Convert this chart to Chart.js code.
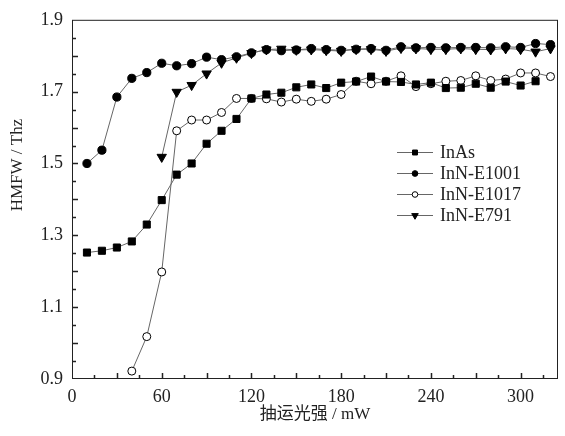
<!DOCTYPE html>
<html>
<head>
<meta charset="utf-8">
<script src="https://cdn.jsdelivr.net/npm/chart.js@4/dist/chart.umd.min.js"></script>
<style>
    html, body { margin: 0; padding: 0; background: #fff; }
    #wrap { width: 565px; height: 436px; }
</style>
</head>
<body>
<div id="wrap"><canvas id="hmfw-chart" width="565" height="436"></canvas></div>
<script>
// pump power, mW (every 10 mW)
var power = [10, 20, 30, 40, 50, 60, 70, 80, 90, 100, 110, 120, 130, 140, 150, 160,
    170, 180, 190, 200, 210, 220, 230, 240, 250, 260, 270, 280, 290, 300, 310, 320];

// HMFW, THz
var inAs = [1.252, 1.257, 1.266, 1.283, 1.330, 1.398, 1.469, 1.500, 1.555, 1.591, 1.624,
    1.681, 1.692, 1.697, 1.712, 1.720, 1.710, 1.725, 1.728, 1.742, 1.728, 1.727, 1.720,
    1.725, 1.710, 1.711, 1.722, 1.711, 1.728, 1.717, 1.729];              // 10..310
var inN1001 = [1.500, 1.537, 1.685, 1.737, 1.753, 1.779, 1.772, 1.778, 1.796, 1.789, 1.797,
    1.808, 1.817, 1.814, 1.816, 1.820, 1.817, 1.815, 1.818, 1.820, 1.815, 1.825, 1.822,
    1.823, 1.822, 1.823, 1.823, 1.822, 1.825, 1.823, 1.834, 1.831];       // 10..320
var inN1017 = [0.922, 1.018, 1.198, 1.591, 1.621, 1.621, 1.642, 1.681, 1.681, 1.680, 1.671,
    1.679, 1.673, 1.679, 1.692, 1.729, 1.722, 1.729, 1.744, 1.714, 1.722, 1.729, 1.731,
    1.744, 1.731, 1.735, 1.752, 1.752, 1.742];                            // 40..320
var inN791 = [1.518, 1.699, 1.718, 1.750, 1.780, 1.794, 1.807, 1.817, 1.819, 1.816, 1.817,
    1.815, 1.813, 1.818, 1.818, 1.813, 1.821, 1.820, 1.818, 1.818, 1.820, 1.818, 1.817,
    1.820, 1.818, 1.811, 1.820];                                          // 60..320

var seriesNames = ['InAs', 'InN-E1001', 'InN-E1017', 'InN-E791'];

var yTickLabels = [0.9, 1.1, 1.3, 1.5, 1.7, 1.9];
var xTickLabels = [0, 60, 120, 180, 240, 300];

var serif = '"Liberation Serif", "Noto Sans CJK SC", serif';
var lineColour = '#666';

function points(xs, ys) {
    return ys.map(function (y, i) {
        return {x: xs[i], y: y};
    });
}

function near(value, list) {
    return list.some(function (v) { return Math.abs(v - value) < 1e-6; });
}

// frame with inward ticks, like the original plotting program
var framePlugin = {
    id: 'frame',
    afterDraw: function (chart) {
        var ctx = chart.ctx, a = chart.chartArea;
        var xs = chart.scales.x, ys = chart.scales.y;
        ctx.save();
        ctx.strokeStyle = '#222';
        ctx.lineWidth = 1;
        ctx.strokeRect(a.left + 0.5, a.top + 0.5, a.right - a.left - 1, a.bottom - a.top - 1);
        ctx.lineWidth = 1.5;
        ctx.beginPath();
        var v, px, len;
        for (v = 15; v < 325; v += 15) {
            px = Math.round(xs.getPixelForValue(v)) + 0.5;
            len = v % 30 === 0 ? 6 : 4;
            ctx.moveTo(px, a.bottom);
            ctx.lineTo(px, a.bottom - len);
        }
        for (var k = 1; k < 20; k++) {
            v = 0.9 + k * 0.05;
            px = Math.round(ys.getPixelForValue(v)) + 0.5;
            len = k % 2 === 0 ? 6 : 4;
            ctx.moveTo(a.left, px);
            ctx.lineTo(a.left + len, px);
        }
        ctx.stroke();

        // y title sits a little above the middle of the axis in the original
        ctx.translate(18, 165);
        ctx.rotate(-Math.PI / 2);
        ctx.font = '17px ' + serif;
        ctx.fillStyle = '#222';
        ctx.textAlign = 'center';
        ctx.textBaseline = 'middle';
        ctx.fillText('HMFW / Thz', 0, 0);
        ctx.restore();
    }
};

function drawMarker(ctx, ds, x, y) {
    var r = ds.pointRadius;
    ctx.fillStyle = ds.pointBackgroundColor;
    ctx.strokeStyle = '#000';
    ctx.lineWidth = 1;
    ctx.beginPath();
    if (ds.pointStyle === 'rect') {
        var s = r * Math.SQRT1_2;
        ctx.rect(x - s, y - s, 2 * s, 2 * s);
    } else if (ds.pointStyle === 'triangle') {
        ctx.moveTo(x - r * 0.87, y - r * 0.5);
        ctx.lineTo(x + r * 0.87, y - r * 0.5);
        ctx.lineTo(x, y + r);
        ctx.closePath();
    } else {
        ctx.arc(x, y, r, 0, Math.PI * 2);
    }
    ctx.fill();
    ctx.stroke();
}

// legend sits inside the plot, right of centre
var legendPlugin = {
    id: 'insideLegend',
    afterDraw: function (chart) {
        var ctx = chart.ctx;
        ctx.save();
        ctx.font = '18px ' + serif;
        ctx.textBaseline = 'middle';
        chart.data.datasets.forEach(function (ds, i) {
            var y = 152 + i * 21;
            ctx.strokeStyle = lineColour;
            ctx.lineWidth = 1;
            ctx.beginPath();
            ctx.moveTo(397, y + 0.5);
            ctx.lineTo(433, y + 0.5);
            ctx.stroke();
            var small = Object.assign({}, ds, {pointRadius: ds.pointRadius * 0.7});
            drawMarker(ctx, small, 415, y + 0.5);
            ctx.fillStyle = '#222';
            ctx.fillText(ds.label, 440, y + 1);
        });
        ctx.restore();
    }
};

var el = document.getElementById('hmfw-chart');

var config = {
    type: 'line',
    data: {
        datasets: [{
            label: seriesNames[0],
            data: points(power, inAs),
            pointStyle: 'rect',
            pointRadius: 5,
            pointBackgroundColor: '#000'
        }, {
            label: seriesNames[1],
            data: points(power, inN1001),
            pointStyle: 'circle',
            pointRadius: 4.1,
            pointBackgroundColor: '#000'
        }, {
            label: seriesNames[2],
            data: points(power.slice(3), inN1017),
            pointStyle: 'circle',
            pointRadius: 4,
            pointBackgroundColor: '#fff'
        }, {
            label: seriesNames[3],
            data: points(power.slice(5), inN791),
            pointStyle: 'triangle',
            pointRotation: 180,
            pointRadius: 5.4,
            pointBackgroundColor: '#000'
        }].map(function (ds) {
            return Object.assign({
                borderColor: lineColour,
                borderWidth: 1,
                pointBorderColor: '#000',
                pointBorderWidth: 1,
                tension: 0,
                fill: false
            }, ds);
        })
    },
    options: {
        responsive: false,
        animation: false,
        layout: {
            padding: {left: 0, right: 5, top: 13, bottom: 11}
        },
        plugins: {
            legend: {display: false},
            tooltip: {enabled: false}
        },
        scales: {
            x: {
                type: 'linear',
                min: 0,
                max: 325,
                afterFit: function (scale) { scale.height = 46; },
                grid: {display: false, drawTicks: false},
                border: {display: false},
                ticks: {
                    stepSize: 15,
                    autoSkip: false,
                    maxRotation: 0,
                    padding: 7,
                    color: '#222',
                    font: {family: serif, size: 18},
                    callback: function (value) {
                        return near(value, xTickLabels) ? String(value) : '';
                    }
                },
                title: {
                    display: true,
                    text: '抽运光强 / mW',
                    color: '#222',
                    font: {family: serif, size: 17},
                    padding: {top: 0, bottom: 0}
                }
            },
            y: {
                min: 0.9,
                max: 1.9,
                afterFit: function (scale) { scale.width = 72; },
                grid: {display: false, drawTicks: false},
                border: {display: false},
                ticks: {
                    stepSize: 0.05,
                    autoSkip: false,
                    padding: 9,
                    color: '#222',
                    font: {family: serif, size: 18},
                    callback: function (value) {
                        return near(value, yTickLabels) ? value.toFixed(1) : '';
                    }
                }
            }
        }
    },
    plugins: [framePlugin, legendPlugin]
};

var hmfwChart = new Chart(el, config);
</script>
</body>
</html>
